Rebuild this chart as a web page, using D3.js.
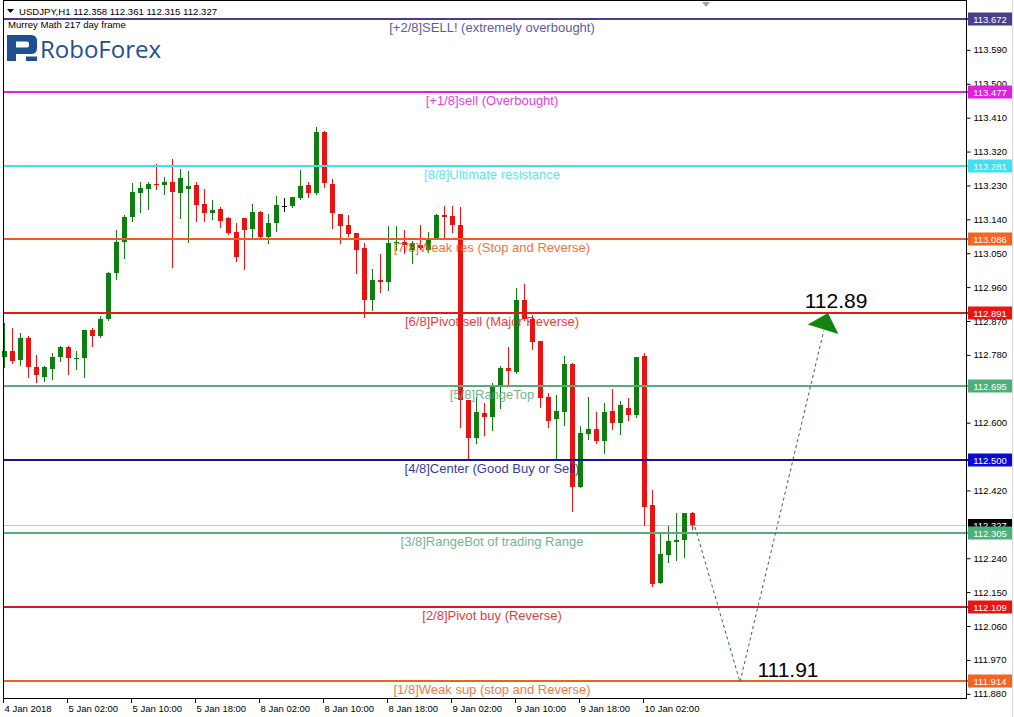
<!DOCTYPE html>
<html>
<head>
<meta charset="utf-8">
<script src="https://cdn.jsdelivr.net/npm/d3@7"></script>
<style>
  html, body { margin: 0; padding: 0; background: #fff; overflow: hidden; }
  svg { display: block; font-family: "Liberation Sans", Arial, sans-serif; }
</style>
</head>
<body>
<svg id="chart" width="1014" height="717"></svg>
<script>
// USDJPY H1 candles, 4 Jan 18:00 .. 10 Jan 08:00 (one entry per hourly bar)
const open = [
  112.773,112.789,112.765,112.823,112.747,112.720,112.741,112.773,112.800,112.768,
  112.771,112.845,112.829,112.873,112.996,113.078,113.146,113.209,113.220,113.232,
  113.229,113.238,113.209,113.218,113.231,113.179,113.155,113.166,113.143,113.106,
  113.142,113.113,113.159,113.091,113.128,113.174,113.175,113.195,113.230,113.208,
  113.371,113.232,113.154,113.123,113.102,113.062,112.925,112.978,112.973,113.076,
  113.079,113.057,113.070,113.057,113.089,113.150,113.147,113.123,112.659,112.558,
  112.625,112.615,112.695,112.743,112.734,112.925,112.873,112.816,112.667,112.608,
  112.628,112.755,112.428,112.569,112.582,112.549,112.630,112.599,112.637,112.619,
  112.776,112.381,112.174,112.248,112.283,112.286,112.358
];
const high = [
  112.863,112.850,112.837,112.829,112.779,112.749,112.784,112.802,112.802,112.789,
  112.845,112.851,112.882,112.999,113.110,113.150,113.236,113.238,113.238,113.285,
  113.251,113.299,113.272,113.267,113.237,113.219,113.190,113.171,113.145,113.128,
  113.142,113.179,113.161,113.154,113.200,113.194,113.199,113.269,113.238,113.384,
  113.374,113.245,113.154,113.150,113.103,113.075,113.006,113.047,113.121,113.121,
  113.110,113.082,113.123,113.105,113.152,113.174,113.174,113.171,112.659,112.668,
  112.650,112.704,112.749,112.800,112.956,112.966,112.885,112.816,112.677,112.672,
  112.776,112.757,112.590,112.666,112.628,112.652,112.688,112.655,112.664,112.773,
  112.783,112.420,112.307,112.325,112.359,112.359,112.361
];
const low = [
  112.747,112.757,112.752,112.720,112.707,112.710,112.715,112.763,112.728,112.741,
  112.720,112.802,112.826,112.871,112.980,113.036,113.135,113.158,113.166,113.218,
  113.206,113.012,113.142,113.078,113.133,113.133,113.139,113.118,113.101,113.029,
  113.007,113.089,113.092,113.075,113.108,113.161,113.171,113.192,113.199,113.206,
  113.224,113.115,113.077,113.094,112.995,112.879,112.898,112.946,112.951,113.057,
  113.049,113.023,113.060,113.052,113.086,113.086,113.105,112.588,112.500,112.545,
  112.566,112.580,112.637,112.699,112.731,112.871,112.795,112.641,112.587,112.504,
  112.593,112.365,112.428,112.556,112.545,112.519,112.581,112.569,112.606,112.613,
  112.328,112.166,112.174,112.230,112.233,112.243,112.315
];
const close = [
  112.789,112.763,112.823,112.747,112.726,112.747,112.773,112.800,112.771,112.771,
  112.845,112.829,112.873,112.997,113.079,113.146,113.212,113.222,113.232,113.229,
  113.238,113.212,113.248,113.227,113.177,113.156,113.163,113.134,113.103,113.039,
  113.110,113.159,113.092,113.129,113.177,113.174,113.197,113.227,113.208,113.371,
  113.234,113.156,113.122,113.100,113.057,112.925,112.978,112.973,113.077,113.079,
  113.070,113.075,113.062,113.084,113.150,113.144,113.123,112.659,112.559,112.628,
  112.615,112.695,112.743,112.737,112.925,112.873,112.814,112.664,112.604,112.631,
  112.755,112.429,112.572,112.582,112.549,112.628,112.597,112.646,112.619,112.773,
  112.375,112.171,112.251,112.285,112.288,112.359,112.327
];

// Time axis labels and the bar each one sits on
const timeLabels = ["4 Jan 2018","5 Jan 02:00","5 Jan 10:00","5 Jan 18:00","8 Jan 02:00",
  "8 Jan 10:00","8 Jan 18:00","9 Jan 02:00","9 Jan 10:00","9 Jan 18:00","10 Jan 02:00"];
const timeLabelBars = [0, 8, 16, 24, 32, 40, 48, 56, 64, 72, 80];

// Price scale labels
const priceTicks = [113.590,113.500,113.410,113.320,113.230,113.140,113.050,112.960,112.870,
  112.780,112.600,112.420,112.240,112.150,112.060,111.970,111.880];

// Murrey Math levels (217 day frame)
const mmLevels = [113.672,113.477,113.281,113.086,112.891,112.695,112.500,112.305,112.109,111.914];
const mmNames = [
  "[+2/8]SELL! (extremely overbought)",
  "[+1/8]sell (Overbought)",
  "[8/8]Ultimate resistance",
  "[7/8]Weak res (Stop and Reverse)",
  "[6/8]Pivot sell (Major Reverse)",
  "[5/8]RangeTop",
  "[4/8]Center (Good Buy or Sell)",
  "[3/8]RangeBot of trading Range",
  "[2/8]Pivot buy (Reverse)",
  "[1/8]Weak sup (stop and Reverse)"
];
const mmLineColors = ["#483d8b","#e020e0","#40e0f0","#f05a23","#e01a1a","#5aaa7c","#14148e","#5aaa7c","#d41a1a","#e8641e"];
const mmBoxColors  = ["#4a3f8c","#e020e0","#40e0f0","#f26522","#e81515","#4cb07a","#0a0ad0","#4cb07a","#e81515","#f26522"];

// Forecast path: last close -> support -> target
const forecastBars = [86, 92, 103];
const forecastPrices = [112.327, 111.91, 112.89];

const lastPrice = 112.327;
const headerText = "USDJPY,H1  112.358 112.361 112.315 112.327";

// ---- layout ----
const W = 1014, H = 717;
const plot = { left: 3, right: 966, top: 0, bottom: 698 };

const x = d3.scaleLinear().domain([0, 120]).range([4, 964]);
const y = d3.scaleLinear().domain([111.914, 113.672]).range([680.5, 18.5]);

const svg = d3.select("#chart");
svg.append("rect").attr("width", W).attr("height", H).attr("fill", "#fff");

// current price line (behind candles)
svg.append("line")
  .attr("x1", plot.left).attr("x2", plot.right)
  .attr("y1", Math.round(y(lastPrice)) + 0.5).attr("y2", Math.round(y(lastPrice)) + 0.5)
  .attr("stroke", "#c4c4c4").attr("stroke-width", 1);

// candles
const bars = d3.range(open.length).map(i => ({ i, o: open[i], h: high[i], l: low[i], c: close[i] }));
const candleColor = d => d.c > d.o ? "#0e7f0e" : (d.c < d.o ? "#e81414" : "#000000");

const cg = svg.append("g");
cg.selectAll("line.wick").data(bars).join("line")
  .attr("class", "wick")
  .attr("x1", d => Math.round(x(d.i)) + 0.5).attr("x2", d => Math.round(x(d.i)) + 0.5)
  .attr("y1", d => Math.round(y(d.h))).attr("y2", d => Math.round(y(d.l)) + 1)
  .attr("stroke", candleColor).attr("stroke-width", 1);
cg.selectAll("rect.body").data(bars).join("rect")
  .attr("class", "body")
  .attr("x", d => Math.round(x(d.i)) - 2)
  .attr("width", 5)
  .attr("y", d => Math.round(y(Math.max(d.o, d.c))))
  .attr("height", d => Math.max(1, Math.round(y(Math.min(d.o, d.c))) - Math.round(y(Math.max(d.o, d.c)))))
  .attr("fill", candleColor);

// Murrey Math lines and captions
const mm = mmLevels.map((v, k) => ({ v, name: mmNames[k], line: mmLineColors[k], box: mmBoxColors[k] }));
const mg = svg.append("g");
mg.selectAll("line").data(mm).join("line")
  .attr("x1", plot.left).attr("x2", plot.right + 2)
  .attr("y1", d => Math.round(y(d.v))).attr("y2", d => Math.round(y(d.v)))
  .attr("stroke", d => d.line).attr("stroke-width", 2);
mg.selectAll("text").data(mm).join("text")
  .attr("x", 492).attr("y", d => Math.round(y(d.v)) + 13)
  .attr("text-anchor", "middle")
  .attr("font-size", 13)
  .attr("fill", d => d.line)
  .attr("opacity", 0.85)
  .text(d => d.name);

// forecast path
const fpts = forecastBars.map((b, k) => [x(b), y(forecastPrices[k])]);
const tip = fpts[2], valley = fpts[1];
const dx = valley[0] - tip[0], dy = valley[1] - tip[1];
const len = Math.hypot(dx, dy);
const ux = dx / len, uy = dy / len;
const baseC = [tip[0] + ux * 18, tip[1] + uy * 18];
const px = -uy, py = ux;
svg.append("path")
  .attr("d", d3.line()([[fpts[0][0] + 3, fpts[0][1] + 2], valley, baseC]))
  .attr("fill", "none").attr("stroke", "#2f6a2f").attr("stroke-width", 1)
  .attr("stroke-dasharray", "3,3");
svg.append("path")
  .attr("d", d3.line()([tip, [baseC[0] + px * 17 - ux * 2, baseC[1] + py * 17 - uy * 2], [baseC[0] - px * 15, baseC[1] - py * 15]]) + "Z")
  .attr("fill", "#118411");
svg.append("text").attr("x", tip[0] + 8).attr("y", tip[1] - 5)
  .attr("text-anchor", "middle").attr("font-size", 21).attr("fill", "#000")
  .text(d3.format(".2f")(forecastPrices[2]));
svg.append("text").attr("x", valley[0] + 48).attr("y", valley[1] - 5)
  .attr("text-anchor", "middle").attr("font-size", 21).attr("fill", "#000")
  .text(d3.format(".2f")(forecastPrices[1]));

// frame
svg.append("rect")
  .attr("x", plot.left + 0.5).attr("y", plot.top + 0.5)
  .attr("width", plot.right - plot.left).attr("height", plot.bottom - plot.top)
  .attr("fill", "none").attr("stroke", "#000").attr("stroke-width", 1);
svg.append("line").attr("x1", W - 1.5).attr("x2", W - 1.5).attr("y1", 0).attr("y2", H)
  .attr("stroke", "#d8d8d8");

// shift marker
svg.append("path").attr("d", "M702,2 L710,2 L706,7 Z").attr("fill", "#a0a0a0");

// price axis
const yAxis = d3.axisRight(y).tickValues(priceTicks).tickSize(4).tickPadding(3)
  .tickFormat(d3.format(".3f"));
const ya = svg.append("g").attr("transform", `translate(${plot.right + 0.5},0.5)`).call(yAxis);
ya.select(".domain").remove();
ya.selectAll("text").attr("font-size", 9.5).attr("font-family", "Liberation Sans, Arial, sans-serif").attr("fill", "#000");

// time axis
const tickX = timeLabelBars.map(b => Math.round(x(b)) - 0.5);
const xa = svg.append("g");
xa.selectAll("line").data(tickX).join("line")
  .attr("x1", d => d).attr("x2", d => d)
  .attr("y1", plot.bottom).attr("y2", plot.bottom + 5)
  .attr("stroke", "#000");
xa.selectAll("text").data(timeLabels).join("text")
  .attr("x", (d, k) => tickX[k] + 1).attr("y", 712)
  .attr("font-size", 9.5).attr("fill", "#000")
  .text(d => d);

// price boxes on the scale
const lp = Math.round(y(lastPrice));
svg.append("rect").attr("x", 968).attr("y", lp - 6).attr("width", 44).attr("height", 13).attr("fill", "#000");
svg.append("text").attr("x", 990).attr("y", lp + 4).attr("text-anchor", "middle")
  .attr("font-size", 9.5).attr("fill", "#fff").text(d3.format(".3f")(lastPrice));

const bg = svg.append("g");
bg.selectAll("rect").data(mm).join("rect")
  .attr("x", 968).attr("y", d => Math.round(y(d.v)) - 6.5)
  .attr("width", 44).attr("height", 13).attr("fill", d => d.box);
bg.selectAll("text").data(mm).join("text")
  .attr("x", 990).attr("y", d => Math.round(y(d.v)) + 3.5)
  .attr("text-anchor", "middle").attr("font-size", 9.5).attr("fill", "#fff")
  .text(d => d3.format(".3f")(d.v));

// header
svg.append("path").attr("d", "M7,9 L14,9 L10.5,13 Z").attr("fill", "#000");
svg.append("text").attr("x", 19).attr("y", 15).attr("font-size", 9.6).attr("fill", "#000").text(headerText);
svg.append("text").attr("x", 8).attr("y", 28).attr("font-size", 9.6).attr("fill", "#000").text("Murrey Math 217 day frame");

// RoboForex logo
const logo = svg.append("g").attr("fill", "#1f4f8e");
logo.append("path")
  .attr("fill-rule", "evenodd")
  .attr("d", "M7,35 H31 Q37,35 37,41 V48 Q37,54 31,54 H16 V61 H7 Z M16,41.5 H27 Q29,41.5 29,43.5 V45.5 Q29,47.5 27,47.5 H16 Z");
logo.append("rect").attr("x", 26).attr("y", 56.5).attr("width", 11).attr("height", 4.5);
logo.append("text").attr("x", 40).attr("y", 58).attr("font-size", 24).attr("font-family", "Open Sans, Liberation Sans, sans-serif")
  .text("RoboForex");
</script>
</body>
</html>
